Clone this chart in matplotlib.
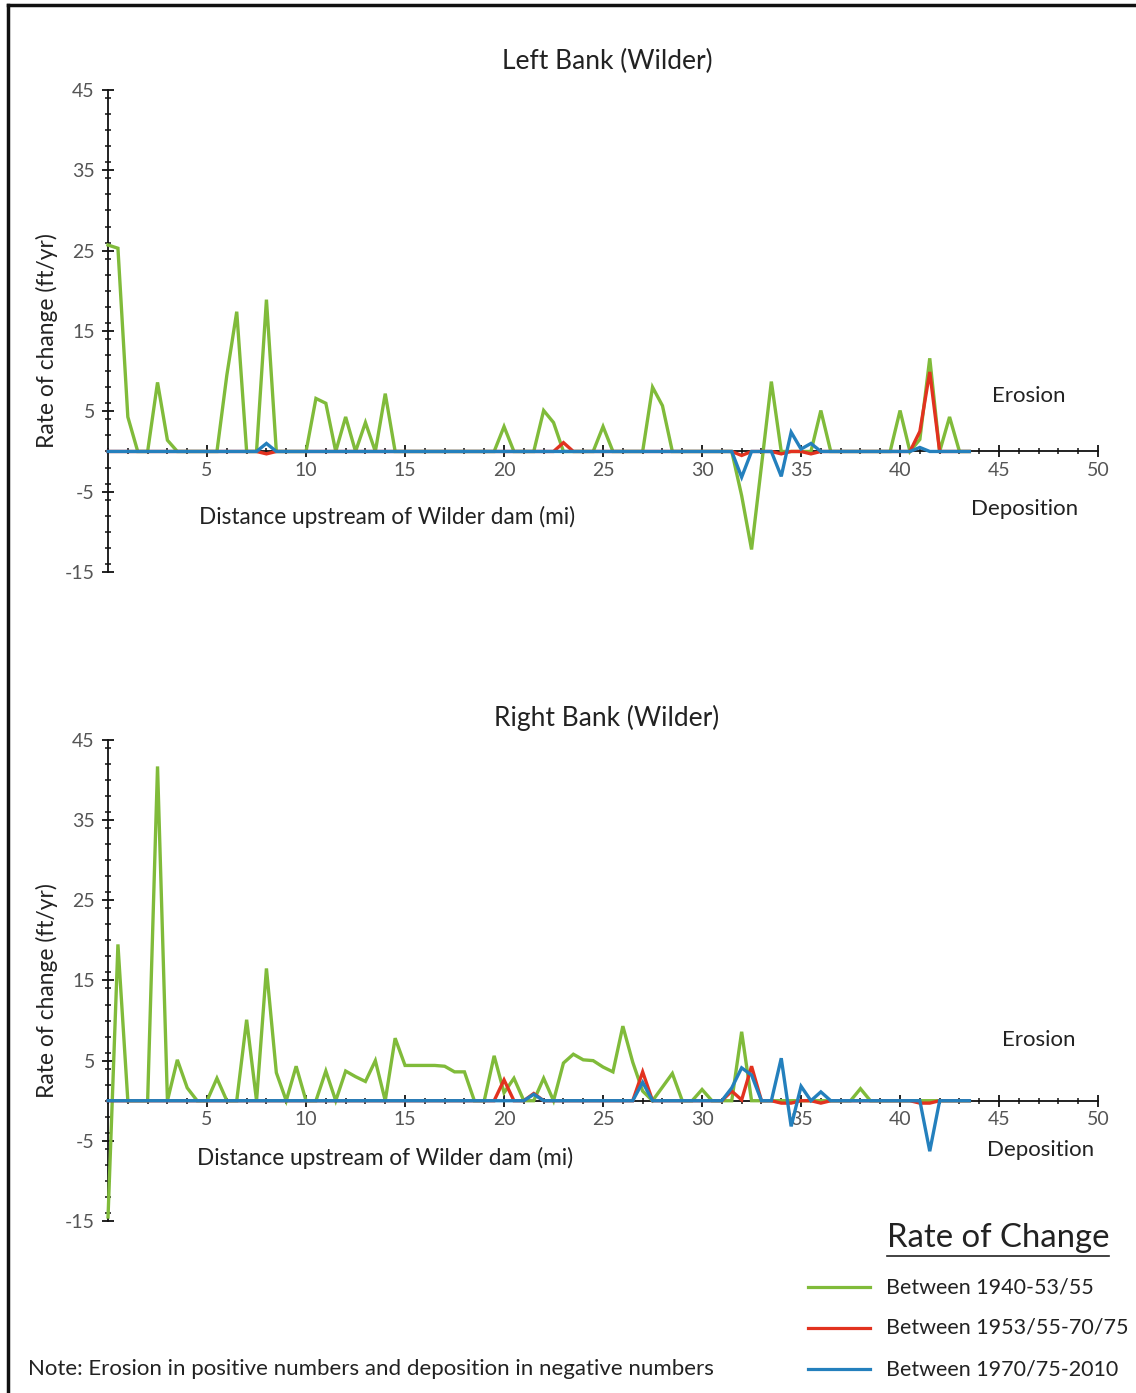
#!/usr/bin/env python3

"""
Rate of change of the Wilder banks, left and right, three periods.
"""

import matplotlib
matplotlib.use("Agg")

import matplotlib.pyplot as plt
from matplotlib.lines import Line2D
from matplotlib.ticker import MultipleLocator, FixedLocator


# distance upstream of Wilder dam (mi), one station every half mile
distance = [
    0.0, 0.5, 1.0, 1.5, 2.0, 2.5, 3.0, 3.5, 4.0, 4.5,
    5.0, 5.5, 6.0, 6.5, 7.0, 7.5, 8.0, 8.5, 9.0, 9.5,
    10.0, 10.5, 11.0, 11.5, 12.0, 12.5, 13.0, 13.5, 14.0, 14.5,
    15.0, 15.5, 16.0, 16.5, 17.0, 17.5, 18.0, 18.5, 19.0, 19.5,
    20.0, 20.5, 21.0, 21.5, 22.0, 22.5, 23.0, 23.5, 24.0, 24.5,
    25.0, 25.5, 26.0, 26.5, 27.0, 27.5, 28.0, 28.5, 29.0, 29.5,
    30.0, 30.5, 31.0, 31.5, 32.0, 32.5, 33.0, 33.5, 34.0, 34.5,
    35.0, 35.5, 36.0, 36.5, 37.0, 37.5, 38.0, 38.5, 39.0, 39.5,
    40.0, 40.5, 41.0, 41.5, 42.0, 42.5, 43.0, 43.5,
]

# left bank (ft/yr), erosion positive
left_1940 = [
    25.7, 25.3, 4.3, 0, 0, 8.6, 1.4, 0, 0, 0,
    0, 0, 9.5, 17.4, 0, 0, 18.9, 0, 0, 0,
    0, 6.6, 6.0, 0, 4.3, 0, 3.6, 0, 7.2, 0,
    0, 0, 0, 0, 0, 0, 0, 0, 0, 0,
    3.1, 0, 0, 0, 5.1, 3.6, 0, 0, 0, 0,
    3.1, 0, 0, 0, 0, 8.0, 5.7, 0, 0, 0,
    0, 0, 0, 0, -5.5, -12.2, -1.8, 8.7, 0, 0,
    0, 0, 5.1, 0, 0, 0, 0, 0, 0, 0,
    5.1, 0, 1.5, 11.6, 0, 4.3, 0, 0,
]
left_1953 = [
    0, 0, 0, 0, 0, 0, 0, 0, 0, 0,
    0, 0, 0, 0, 0, 0, -0.3, 0, 0, 0,
    0, 0, 0, 0, 0, 0, 0, 0, 0, 0,
    0, 0, 0, 0, 0, 0, 0, 0, 0, 0,
    0, 0, 0, 0, 0, 0, 1.1, 0, 0, 0,
    0, 0, 0, 0, 0, 0, 0, 0, 0, 0,
    0, 0, 0, 0, -0.5, 0, 0, 0, -0.3, 0,
    0, -0.3, 0, 0, 0, 0, 0, 0, 0, 0,
    0, 0, 2.5, 9.9, 0, 0, 0, 0,
]
left_1970 = [
    0, 0, 0, 0, 0, 0, 0, 0, 0, 0,
    0, 0, 0, 0, 0, 0, 1.0, 0, 0, 0,
    0, 0, 0, 0, 0, 0, 0, 0, 0, 0,
    0, 0, 0, 0, 0, 0, 0, 0, 0, 0,
    0, 0, 0, 0, 0, 0, 0, 0, 0, 0,
    0, 0, 0, 0, 0, 0, 0, 0, 0, 0,
    0, 0, 0, 0, -3.2, 0, 0, 0, -3.1, 2.4,
    0.3, 1.0, 0, 0, 0, 0, 0, 0, 0, 0,
    0, 0, 0.5, 0, 0, 0, 0, 0,
]

# right bank (ft/yr)
right_1940 = [
    -14.5, 19.5, 0, 0, 0, 41.7, 0, 5.1, 1.6, 0,
    0, 2.8, 0, 0, 10.1, 0, 16.5, 3.5, 0, 4.3,
    0, 0, 3.7, 0, 3.7, 3.0, 2.4, 5.0, 0, 7.8,
    4.4, 4.4, 4.4, 4.4, 4.3, 3.6, 3.6, 0, 0, 5.6,
    1.0, 2.8, 0, 0, 2.8, 0, 4.7, 5.8, 5.1, 5.0,
    4.2, 3.6, 9.3, 4.8, 1.2, 0, 1.7, 3.4, 0, 0,
    1.4, 0, 0, 0, 8.6, 0, 0, 0, 0, 0,
    0, 0, 0, 0, 0, 0, 1.5, 0, 0, 0,
    0, 0, 0, 0, 0, 0, 0, 0,
]
right_1953 = [
    0, 0, 0, 0, 0, 0, 0, 0, 0, 0,
    0, 0, 0, 0, 0, 0, 0, 0, 0, 0,
    0, 0, 0, 0, 0, 0, 0, 0, 0, 0,
    0, 0, 0, 0, 0, 0, 0, 0, 0, 0,
    2.6, 0, 0, 0.9, 0, 0, 0, 0, 0, 0,
    0, 0, 0, 0, 3.6, 0, 0, 0, 0, 0,
    0, 0, 0, 1.2, 0.1, 4.3, 0, 0, -0.3, -0.3,
    0, 0, -0.3, 0, 0, 0, 0, 0, 0, 0,
    0, 0, -0.3, -0.3, 0, 0, 0, 0,
]
right_1970 = [
    0, 0, 0, 0, 0, 0, 0, 0, 0, 0,
    0, 0, 0, 0, 0, 0, 0, 0, 0, 0,
    0, 0, 0, 0, 0, 0, 0, 0, 0, 0,
    0, 0, 0, 0, 0, 0, 0, 0, 0, 0,
    0, 0, 0, 0.8, 0, 0, 0, 0, 0, 0,
    0, 0, 0, 0, 2.3, 0, 0, 0, 0, 0,
    0, 0, 0, 1.6, 4.1, 3.2, 0, 0, 5.3, -3.2,
    1.8, 0, 1.1, 0, 0, 0, 0, 0, 0, 0,
    0, 0, 0, -6.3, 0, 0, 0, 0,
]

periods = ["Between 1940-53/55", "Between 1953/55-70/75", "Between 1970/75-2010"]
colors = ["#80bb3a", "#e2321f", "#2480bd"]

FONT = ["Lato", "DejaVu Sans"]
TEXT = "#222222"
TICK = "#555555"

plt.rcParams["axes.unicode_minus"] = False


def draw_bank(axis, title, series, ytitle, xlab_pos, erosion_pos, deposition_pos):
    """Draws one bank panel with axes crossing at zero."""

    for values, color in zip(series, colors):
        axis.plot(distance, values, color=color, lw=2.4, clip_on=False,
                  solid_joinstyle="miter", zorder=3)

    axis.set_xlim(0, 50)
    axis.set_ylim(-15, 45)

    for side in ("top", "right"):
        axis.spines[side].set_visible(False)
    axis.spines["left"].set_position(("data", 0))
    axis.spines["bottom"].set_position(("data", 0))
    for side in ("left", "bottom"):
        axis.spines[side].set_linewidth(1.3)
        axis.spines[side].set_color("#111111")

    axis.xaxis.set_major_locator(FixedLocator([5, 10, 15, 20, 25, 30, 35, 40, 45, 50]))
    axis.xaxis.set_minor_locator(MultipleLocator(1))
    axis.yaxis.set_major_locator(FixedLocator([-15, -5, 5, 15, 25, 35, 45]))
    axis.yaxis.set_minor_locator(MultipleLocator(2))

    axis.tick_params(which="major", direction="inout", length=9, width=1.3,
                     color="#111111", labelsize=14, labelcolor=TICK)
    axis.tick_params(which="minor", direction="inout", length=5, width=1.1,
                     color="#111111")
    axis.tick_params(axis="y", which="major", pad=5)
    axis.tick_params(axis="x", which="major", pad=3)
    for lab in axis.get_xticklabels() + axis.get_yticklabels():
        lab.set_family(FONT)

    axis.text(25.2, ytitle, title, ha="center", va="center", fontsize=19,
              color=TEXT, family=FONT)
    axis.text(xlab_pos[0], xlab_pos[1], "Distance upstream of Wilder dam (mi)",
              ha="center", va="center", fontsize=16.3, color=TEXT, family=FONT)
    axis.text(-3.1, 13.8, "Rate of change (ft/yr)", rotation=90, ha="center",
              va="center", fontsize=16.4, color=TEXT, family=FONT)
    axis.text(erosion_pos[0], erosion_pos[1], "Erosion", ha="center", va="center",
              fontsize=16, color=TEXT, family=FONT)
    axis.text(deposition_pos[0], deposition_pos[1], "Deposition", ha="center",
              va="center", fontsize=16, color=TEXT, family=FONT)


def plot():
    """Builds the whole figure and saves it."""

    fig = plt.figure(figsize=(11.36, 13.93), dpi=100)

    ax_left = fig.add_axes([0.0951, 0.5894, 0.8715, 0.346])
    ax_right = fig.add_axes([0.0951, 0.1235, 0.8715, 0.3453])

    draw_bank(ax_left, "Left Bank (Wilder)", [left_1940, left_1953, left_1970],
              48.5, (14.1, -8.2), (46.5, 6.9), (46.3, -7.1))
    draw_bank(ax_right, "Right Bank (Wilder)", [right_1940, right_1953, right_1970],
              47.8, (14.0, -7.2), (47.0, 7.6), (47.1, -6.2))

    # legend, drawn by hand like the original
    width, height = 1136.0, 1393.0
    fig.text(998 / width, 1 - 1238 / height, "Rate of Change", ha="center",
             va="center", fontsize=23.7, color=TEXT, family=FONT)
    fig.add_artist(Line2D([887 / width, 1109 / width], [1 - 1256 / height] * 2,
                          color=TEXT, lw=1.2))
    for i, (label, color) in enumerate(zip(periods, colors)):
        ypos = 1 - (1287 + 41 * i) / height
        fig.add_artist(Line2D([808 / width, 870 / width], [ypos, ypos],
                              color=color, lw=2.3))
        fig.text(886 / width, ypos, label, ha="left", va="center", fontsize=15.5,
                 color=TEXT, family=FONT)

    fig.text(28 / width, 1 - 1369 / height,
             "Note: Erosion in positive numbers and deposition in negative numbers",
             ha="left", va="center", fontsize=16, color=TEXT, family=FONT)

    # frame around the picture
    fig.add_artist(Line2D([8 / width, 8 / width], [0, 1 - 5 / height],
                          color="#111111", lw=2.5))
    fig.add_artist(Line2D([8 / width, 1], [1 - 5 / height, 1 - 5 / height],
                          color="#111111", lw=2.5))

    fig.savefig("out.png", dpi=100)


if __name__ == "__main__":
    plot()
